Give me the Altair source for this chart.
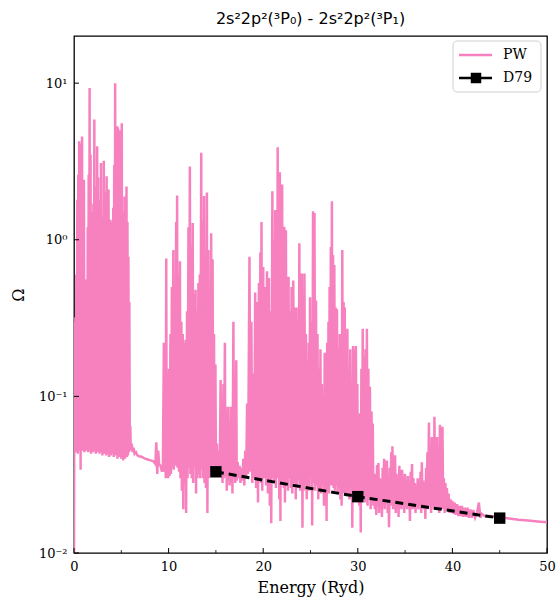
import altair as alt
import pandas as pd

TITLE = "2s²2p²(³P₀) - 2s²2p²(³P₁)"

# ---- PW resonance curve, in four energy regions ----
pw_energy_a = [0.00, 0.05, 0.10, 0.15, 0.20, 0.25, 0.30, 0.35, 0.40, 0.45, 0.50, 0.55, 0.60, 0.65, 0.70, 0.75,
               0.80, 0.85, 0.90, 0.95, 1.00, 1.05, 1.10, 1.15, 1.20, 1.25, 1.30, 1.35, 1.40, 1.45, 1.50, 1.55,
               1.60, 1.65, 1.70, 1.75, 1.80, 1.85, 1.90, 1.95, 2.00, 2.05, 2.10, 2.15, 2.20, 2.25, 2.30, 2.35,
               2.40, 2.45, 2.50, 2.55, 2.60, 2.65, 2.70, 2.75, 2.80, 2.85, 2.90, 2.95, 3.00, 3.05, 3.10, 3.15,
               3.20, 3.25, 3.30, 3.35, 3.40, 3.45, 3.50, 3.55, 3.60, 3.65, 3.70, 3.75, 3.80, 3.85, 3.90, 3.95,
               4.00, 4.05, 4.10, 4.15, 4.20, 4.25, 4.30, 4.35, 4.40, 4.45, 4.50, 4.55, 4.60, 4.65, 4.70, 4.75,
               4.80, 4.85, 4.90, 4.95, 5.00, 5.05, 5.10, 5.15, 5.20, 5.25, 5.30, 5.35, 5.40, 5.45, 5.50, 5.55,
               5.60, 5.65, 5.70, 5.75, 5.80, 5.85, 5.90, 5.95, 6.00,
               6.10, 6.20, 6.30, 6.40, 6.55, 6.70, 6.90, 7.20, 7.50, 7.80, 8.10, 8.40, 8.60, 8.70, 8.80, 8.90,
               9.00, 9.15, 9.30]
pw_omega_a = [0.010, 0.30, 0.046, 0.32, 0.044, 0.60, 0.047, 1.8, 0.043, 2.6, 0.046, 4.25, 0.045, 4.1, 0.034, 1.6,
              0.048, 4.57, 0.045, 2.0, 0.047, 2.42, 0.044, 0.55, 0.046, 0.50, 0.045, 0.56, 0.047, 1.2, 0.044, 2.6,
              0.046, 9.31, 0.045, 3.5, 0.043, 1.5, 0.046, 0.86, 0.044, 1.7, 0.046, 5.85, 0.045, 2.2, 0.043, 1.6,
              0.046, 3.95, 0.044, 2.5, 0.045, 0.86, 0.043, 1.8, 0.046, 3.09, 0.044, 1.4, 0.042, 0.9, 0.045, 3.2,
              0.043, 2.0, 0.044, 1.3, 0.042, 2.54, 0.045, 1.0, 0.043, 2.09, 0.041, 1.2, 0.044, 1.34, 0.042, 0.9,
              0.043, 1.3, 0.044, 1.6, 0.041, 3.0, 0.043, 10.0, 0.042, 4.0, 0.044, 5.3, 0.040, 5.2, 0.043, 2.5,
              0.041, 5.0, 0.043, 3.5, 0.040, 5.55, 0.042, 1.5, 0.039, 1.2, 0.042, 1.89, 0.040, 1.0, 0.043, 2.19,
              0.041, 1.3, 0.042, 0.78, 0.044, 0.40, 0.045, 0.065, 0.046,
              0.050, 0.044, 0.047, 0.043, 0.044, 0.042, 0.0415, 0.041, 0.040, 0.0395, 0.039, 0.0385, 0.037, 0.051, 0.032, 0.045,
              0.037, 0.036, 0.033]

pw_energy_b = [9.40, 9.50, 9.55, 9.65, 9.70, 9.75, 9.80, 9.90, 9.95, 10.05, 10.10, 10.20, 10.25, 10.35, 10.40,
               10.50, 10.55, 10.65, 10.70, 10.80, 10.85, 10.90, 10.95, 11.05, 11.10, 11.20, 11.25, 11.35, 11.40,
               11.50, 11.55, 11.65, 11.70, 11.80, 11.85, 11.95, 12.00, 12.10, 12.15, 12.25, 12.30, 12.40, 12.45,
               12.55, 12.60, 12.70, 12.75, 12.85, 12.90, 13.00, 13.05, 13.15, 13.20, 13.30, 13.35, 13.45, 13.50,
               13.60, 13.65, 13.75, 13.80, 13.90, 13.95, 14.05, 14.10, 14.20, 14.25, 14.35, 14.40, 14.50, 14.55,
               14.65, 14.70, 14.80, 14.85, 14.95, 15.00, 15.10, 15.20, 15.30, 15.40, 15.50, 15.55, 15.65, 15.70,
               15.80, 15.85, 15.95, 16.00, 16.10, 16.15, 16.25, 16.30, 16.40, 16.45, 16.55, 16.60, 16.70, 16.75,
               16.85, 16.90, 17.00, 17.05, 17.15, 17.20, 17.30, 17.40, 17.50, 17.60, 17.70, 17.80, 17.90, 18.00]
pw_omega_b = [0.036, 0.22, 0.033, 0.045, 0.030, 0.76, 0.035, 0.09, 0.030, 0.15, 0.031, 0.25, 0.032, 0.5, 0.035,
              0.86, 0.034, 0.35, 0.036, 1.3, 0.04, 1.92, 0.035, 0.6, 0.033, 0.73, 0.030, 0.3, 0.025,
              0.25, 0.019, 0.22, 0.028, 0.23, 0.018, 0.35, 0.030, 1.2, 0.035, 2.94, 0.032, 0.9, 0.030,
              1.28, 0.028, 0.45, 0.035, 0.48, 0.024, 0.35, 0.030, 0.53, 0.032, 0.6, 0.030, 3.6, 0.034,
              1.3, 0.030, 1.9, 0.028, 0.8, 0.026, 2.0, 0.018, 0.86, 0.030, 0.4, 0.035, 1.1, 0.033,
              0.75, 0.036, 0.25, 0.034, 0.16, 0.036, 0.05, 0.033, 0.045, 0.032, 0.127, 0.033, 0.05, 0.028,
              0.12, 0.030, 0.22, 0.031, 0.06, 0.025, 0.086, 0.029, 0.05, 0.027, 0.086, 0.028, 0.045, 0.024,
              0.30, 0.030, 0.06, 0.028, 0.17, 0.029, 0.038, 0.030, 0.036, 0.028, 0.035, 0.029, 0.04, 0.027]

pw_energy_c = [18.10, 18.20, 18.30, 18.40, 18.55, 18.65, 18.75, 18.85, 18.95, 19.05, 19.15, 19.25, 19.35, 19.45,
               19.55, 19.62, 19.70, 19.75, 19.82, 19.90, 20.00, 20.10, 20.20, 20.30, 20.40, 20.50, 20.60, 20.70,
               20.80, 20.85, 20.97, 21.05, 21.12, 21.18, 21.27, 21.35, 21.42, 21.47, 21.53, 21.60, 21.66, 21.70,
               21.76, 21.82, 21.90, 21.95, 22.00, 22.06, 22.12, 22.17, 22.23, 22.30, 22.40, 22.48, 22.57, 22.62,
               22.68, 22.75, 22.85, 22.92, 23.00, 23.08, 23.18, 23.26, 23.36, 23.44, 23.52, 23.60, 23.68, 23.75,
               23.82, 23.90, 23.97, 24.02, 24.08, 24.15, 24.22, 24.28, 24.36, 24.44, 24.52, 24.60, 24.68, 24.75,
               24.82, 24.88, 24.95, 25.02, 25.10, 25.18, 25.27, 25.34, 25.42, 25.50, 25.58, 25.66, 25.74, 25.82,
               25.90, 25.98, 26.05, 26.12, 26.20, 26.28, 26.35, 26.42, 26.50, 26.57, 26.64, 26.70, 26.76, 26.83,
               26.90, 26.96, 27.02, 27.08, 27.15, 27.20, 27.26, 27.32, 27.38, 27.44, 27.52, 27.58, 27.66, 27.72,
               27.80, 27.87, 27.95, 28.02, 28.10, 28.16, 28.23, 28.29, 28.36, 28.43, 28.50, 28.56, 28.62, 28.69,
               28.76, 28.83, 28.90, 28.97, 29.05, 29.12, 29.20, 29.27, 29.35, 29.42, 29.50, 29.57, 29.65, 29.72,
               29.80, 29.87, 29.95, 30.02, 30.10, 30.17, 30.24, 30.31, 30.38, 30.45, 30.52, 30.60, 30.68, 30.75,
               30.82, 30.89, 30.96, 31.03, 31.12, 31.20, 31.28, 31.36, 31.45, 31.52, 31.58, 31.65]
pw_omega_c = [0.045, 0.030, 0.09, 0.032, 0.78, 0.033, 0.3, 0.028, 0.14, 0.030, 0.46, 0.026, 0.4, 0.021,
              0.53, 0.030, 0.83, 0.028, 1.3, 0.025, 0.67, 0.030, 0.5, 0.027, 0.63, 0.024, 0.57, 0.020,
              0.35, 0.0155, 2.04, 0.030, 1.0, 0.028, 1.55, 0.026, 1.2, 0.030, 3.9, 0.030, 2.0, 0.022,
              2.7, 0.016, 0.8, 0.028, 2.25, 0.030, 1.0, 0.026, 1.21, 0.021, 1.15, 0.028, 0.5, 0.025,
              0.58, 0.030, 0.35, 0.026, 0.5, 0.024, 0.55, 0.028, 0.37, 0.022, 0.37, 0.026, 0.3, 0.029,
              0.95, 0.025, 0.4, 0.027, 0.61, 0.0145, 0.3, 0.025, 0.61, 0.027, 0.25, 0.022, 0.17, 0.028,
              0.22, 0.025, 0.43, 0.030, 0.3, 0.015, 1.52, 0.028, 1.48, 0.025, 0.41, 0.027, 0.25, 0.022,
              0.15, 0.026, 0.2, 0.024, 0.12, 0.027, 0.1, 0.020, 0.19, 0.025, 0.15, 0.016, 0.22, 0.026,
              0.3, 0.024, 0.5, 0.028, 0.9, 0.027, 1.76, 0.030, 0.8, 0.026, 0.69, 0.025, 0.37, 0.027,
              0.36, 0.024, 0.2, 0.026, 0.25, 0.022, 0.23, 0.020, 0.86, 0.026, 0.4, 0.024, 0.37, 0.027,
              0.2, 0.023, 0.27, 0.025, 0.15, 0.022, 0.2, 0.026, 0.1, 0.0145, 0.21, 0.024, 0.2, 0.022,
              0.21, 0.025, 0.12, 0.021, 0.05, 0.020, 0.078, 0.0135, 0.15, 0.022, 0.27, 0.024, 0.18, 0.021,
              0.2, 0.023, 0.27, 0.020, 0.15, 0.022, 0.115, 0.019, 0.08, 0.021, 0.067, 0.020]

pw_energy_d = [31.72, 31.80, 31.88, 31.95, 32.03, 32.10, 32.18, 32.25, 32.33, 32.40, 32.48, 32.55, 32.63, 32.70,
               32.78, 32.85, 32.93, 33.00, 33.08, 33.15, 33.23, 33.30, 33.38, 33.45, 33.53, 33.60, 33.66, 33.73,
               33.80, 33.87, 33.94, 34.01, 34.09, 34.16, 34.24, 34.31, 34.39, 34.46, 34.54, 34.61, 34.69, 34.76,
               34.84, 34.91, 34.99, 35.06, 35.14, 35.21, 35.29, 35.36, 35.44, 35.51, 35.59, 35.66, 35.73, 35.80,
               35.88, 35.95, 36.03, 36.10, 36.18, 36.25, 36.33, 36.40, 36.48, 36.55, 36.63, 36.70, 36.77, 36.84,
               36.92, 36.99, 37.07, 37.14, 37.22, 37.29, 37.36, 37.43, 37.52, 37.60, 37.68, 37.75, 37.82, 37.90,
               37.97, 38.04, 38.10, 38.18, 38.26, 38.33, 38.38, 38.46, 38.54, 38.61, 38.68, 38.75, 38.83, 38.90,
               38.95, 39.03, 39.10, 39.18, 39.26, 39.34, 39.42, 39.50, 39.60, 39.70, 39.80, 39.90, 40.00, 40.12,
               40.24, 40.36, 40.50, 40.62, 40.75, 40.88, 41.00, 41.15, 41.30, 41.45, 41.60, 41.75, 41.90, 42.05,
               42.20, 42.40, 42.60, 42.80, 42.95, 43.10, 43.40, 44.00, 45.00, 46.00, 47.00, 48.00, 49.00, 50.00]
pw_omega_d = [0.030, 0.019, 0.032, 0.0175, 0.0365, 0.020, 0.0375, 0.018, 0.030, 0.021, 0.028, 0.017, 0.035, 0.020,
              0.040, 0.019, 0.039, 0.021, 0.039, 0.018, 0.030, 0.0146, 0.035, 0.020, 0.044, 0.021, 0.048, 0.019,
              0.036, 0.020, 0.042, 0.018, 0.032, 0.021, 0.030, 0.017, 0.036, 0.020, 0.034, 0.019, 0.034, 0.021,
              0.030, 0.018, 0.032, 0.020, 0.029, 0.019, 0.031, 0.020, 0.028, 0.016, 0.033, 0.020, 0.037, 0.019,
              0.030, 0.021, 0.028, 0.018, 0.027, 0.020, 0.030, 0.019, 0.028, 0.020, 0.033, 0.018, 0.038, 0.020,
              0.029, 0.019, 0.026, 0.0165, 0.035, 0.020, 0.044, 0.019, 0.068, 0.020, 0.040, 0.018, 0.055, 0.020,
              0.035, 0.019, 0.074, 0.020, 0.045, 0.019, 0.055, 0.020, 0.040, 0.018, 0.066, 0.019, 0.037, 0.020,
              0.064, 0.019, 0.030, 0.018, 0.028, 0.019, 0.026, 0.0185, 0.024, 0.018, 0.022, 0.018, 0.0215, 0.0178,
              0.021, 0.0175, 0.0205, 0.0172, 0.020, 0.0172, 0.020, 0.017, 0.0195, 0.017, 0.0195, 0.0168, 0.019, 0.0168,
              0.0188, 0.0168, 0.018, 0.021, 0.0168, 0.0178, 0.0172, 0.0172, 0.0169, 0.0166, 0.0163, 0.0161, 0.0159, 0.0157]

# ---- D79 points ----
d79_energy = [15.0, 30.0, 45.0]
d79_omega = [0.033, 0.0229, 0.0167]

# ---- ticks ----
x_major = [0, 10, 20, 30, 40, 50]
x_minor = [5, 15, 25, 35, 45]
y_major = [0.01, 0.1, 1, 10]

legend_labels = ["PW", "D79"]

PINK = "#f781bf"
W, H = 473, 517

pw = pd.DataFrame({
    "energy": pw_energy_a + pw_energy_b + pw_energy_c + pw_energy_d,
    "omega": pw_omega_a + pw_omega_b + pw_omega_c + pw_omega_d,
})
pw["i"] = range(len(pw))
d79 = pd.DataFrame({"energy": d79_energy, "omega": d79_omega})

xscale = alt.Scale(domain=[0, 50], nice=False, zero=False)
yscale = alt.Scale(type="log", domain=[0.01, 20], nice=False)

xaxis = alt.Axis(values=x_major, format="d", title="Energy (Ryd)", labelFlush=False,
                 ticks=False, domain=False, grid=False, labelPadding=7, titlePadding=6)
yaxis = alt.Axis(values=y_major, title="Ω", ticks=False, domain=False, grid=False,
                 labelExpr="datum.value >= 5 ? '10¹' : datum.value >= 0.5 ? '10⁰' : datum.value >= 0.05 ? '10⁻¹' : '10⁻²'",
                 labelPadding=7, titlePadding=12, titleAngle=270)

pw_line = alt.Chart(pw).mark_line(color=PINK, strokeWidth=2.5, clip=True).encode(
    x=alt.X("energy:Q", scale=xscale, axis=xaxis),
    y=alt.Y("omega:Q", scale=yscale, axis=yaxis),
    order="i:Q",
)

d79_line = alt.Chart(d79).mark_line(color="black", strokeWidth=3, strokeDash=[8, 5]).encode(
    x="energy:Q", y="omega:Q"
)
d79_pts = alt.Chart(d79).mark_point(shape="square", filled=True, color="black", size=130, opacity=1).encode(
    x="energy:Q", y="omega:Q"
)

xt_major = alt.Chart(pd.DataFrame({"energy": x_major})).mark_rule(color="black", strokeWidth=1).encode(
    x="energy:Q", y=alt.value(H), y2=alt.value(H - 5))
xt_minor = alt.Chart(pd.DataFrame({"energy": x_minor})).mark_rule(color="black", strokeWidth=0.8).encode(
    x="energy:Q", y=alt.value(H), y2=alt.value(H - 3))
yt_major = alt.Chart(pd.DataFrame({"omega": y_major})).mark_rule(color="black", strokeWidth=1).encode(
    y="omega:Q", x=alt.value(0), x2=alt.value(5))

# legend box (top right inside the plot)
dummy = pd.DataFrame({"k": [0]})
leg_box = alt.Chart(dummy).mark_rect(fill="white", stroke="#cccccc", strokeWidth=1, cornerRadius=4, opacity=0.9).encode(
    x=alt.value(379), x2=alt.value(467), y=alt.value(5), y2=alt.value(56))
leg_pw = alt.Chart(dummy).mark_rule(color=PINK, strokeWidth=2.5).encode(
    x=alt.value(385), x2=alt.value(418), y=alt.value(19))
leg_d79 = alt.Chart(dummy).mark_rule(color="black", strokeWidth=2.5).encode(
    x=alt.value(385), x2=alt.value(418), y=alt.value(42))
leg_sq = alt.Chart(dummy).mark_point(shape="square", filled=True, color="black", size=110, opacity=1).encode(
    x=alt.value(402), y=alt.value(42))
leg_t1 = alt.Chart(dummy).mark_text(align="left", baseline="middle", font="DejaVu Serif", fontSize=14, color="black").encode(
    x=alt.value(429), y=alt.value(19), text=alt.value(legend_labels[0]))
leg_t2 = alt.Chart(dummy).mark_text(align="left", baseline="middle", font="DejaVu Serif", fontSize=14, color="black").encode(
    x=alt.value(429), y=alt.value(42), text=alt.value(legend_labels[1]))

chart = alt.layer(
    pw_line, d79_line, d79_pts, xt_major, xt_minor, yt_major,
    leg_box, leg_pw, leg_d79, leg_sq, leg_t1, leg_t2,
).properties(
    width=W, height=H,
    title=alt.TitleParams(TITLE, font="DejaVu Sans", fontSize=16, fontWeight="normal",
                          color="black", anchor="middle", offset=9),
    autosize=alt.AutoSizeParams(type="none"),
    padding={"left": 74, "top": 36, "right": 11, "bottom": 47},
).configure_view(
    stroke="black", strokeWidth=1.3
).configure_axis(
    labelFont="DejaVu Serif", labelFontSize=13, labelColor="black",
    titleFont="DejaVu Serif", titleFontSize=16, titleColor="black", titleFontWeight="normal",
)

chart.save("out.html", embed_options={"renderer": "svg", "actions": False})
